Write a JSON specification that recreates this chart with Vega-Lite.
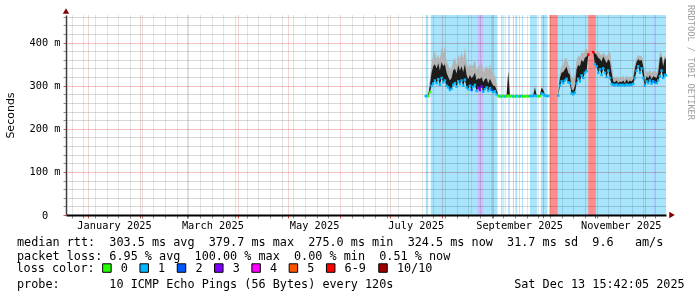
{
"$schema": "https://vega.github.io/schema/vega-lite/v6.json",
"width": 600, "height": 200,
"autosize": {"type": "none"},
"padding": {"left": 66, "top": 15, "right": 31, "bottom": 82},
"background": "#ffffff",
"config": {
"view": {"stroke": null},
"axisX": {"labelFont": "DejaVu Sans Mono", "labelFontSize": 10.3, "labelColor": "#000000", "labelBaseline": "top", "labelPadding": 2, "labelFlush": false, "labelOverlap": false, "labelBound": false, "tickSize": 3, "gridDash": [1, 1], "gridOpacity": 0.7, "domainColor": "#000000", "domainWidth": 2},
"axisY": {"labelFont": "DejaVu Sans Mono", "labelFontSize": 10.3, "labelColor": "#000000", "labelPadding": 3, "labelOverlap": false, "labelFlush": false, "tickSize": 3, "gridDash": [1, 1], "gridOpacity": 0.7, "domainColor": "#404040", "domainWidth": 1.5}
},
"title": {"text": "RRDTOOL / TOBI OETIKER", "orient": "right", "anchor": "start", "frame": "group", "font": "DejaVu Sans Mono", "fontSize": 8.7, "fontWeight": "normal", "color": "#a0a0a0", "offset": 2, "dx": -10},
"resolve": {"scale": {"color": "independent"}},
"datasets": {
"bands": [
{"t":"2025-07-22T12:00:00Z","t2":"2025-07-24T00:00:00Z","c":"1"},
{"t":"2025-07-25T12:00:00Z","t2":"2025-08-18T16:00:00Z","c":"1"},
{"t":"2025-08-18T16:00:00Z","t2":"2025-08-19T08:00:00Z","c":"2"},
{"t":"2025-08-19T08:00:00Z","t2":"2025-08-22T16:00:00Z","c":"1"},
{"t":"2025-08-22T16:00:00Z","t2":"2025-08-26T00:00:00Z","c":"3"},
{"t":"2025-08-26T00:00:00Z","t2":"2025-08-30T16:00:00Z","c":"1"},
{"t":"2025-08-30T16:00:00Z","t2":"2025-08-31T08:00:00Z","c":"2"},
{"t":"2025-08-31T08:00:00Z","t2":"2025-09-03T12:00:00Z","c":"1"},
{"t":"2025-09-05T17:00:00Z","t2":"2025-09-06T14:00:00Z","c":"1"},
{"t":"2025-09-07T22:00:00Z","t2":"2025-09-08T10:00:00Z","c":"1"},
{"t":"2025-09-10T00:00:00Z","t2":"2025-09-11T00:00:00Z","c":"1"},
{"t":"2025-09-12T19:00:00Z","t2":"2025-09-13T10:00:00Z","c":"1"},
{"t":"2025-09-14T17:00:00Z","t2":"2025-09-15T10:00:00Z","c":"1"},
{"t":"2025-09-16T12:00:00Z","t2":"2025-09-17T00:00:00Z","c":"1"},
{"t":"2025-09-18T05:00:00Z","t2":"2025-09-18T19:00:00Z","c":"1"},
{"t":"2025-09-23T00:00:00Z","t2":"2025-09-27T10:00:00Z","c":"1"},
{"t":"2025-09-29T12:00:00Z","t2":"2025-10-03T12:00:00Z","c":"1"},
{"t":"2025-10-04T18:00:00Z","t2":"2025-10-09T17:00:00Z","c":"6-9"},
{"t":"2025-10-09T17:00:00Z","t2":"2025-10-28T00:00:00Z","c":"1"},
{"t":"2025-10-28T00:00:00Z","t2":"2025-11-01T05:00:00Z","c":"6-9"},
{"t":"2025-11-01T05:00:00Z","t2":"2025-12-06T14:00:00Z","c":"1"},
{"t":"2025-12-06T14:00:00Z","t2":"2025-12-07T05:00:00Z","c":"2"},
{"t":"2025-12-07T05:00:00Z","t2":"2025-12-13T15:42:00Z","c":"1"}
],
"main": [
{"t":"2025-07-22T12:00:00Z","m":276,"k":278,"h":280,"c":"1"},
{"t":"2025-07-23","m":276,"k":278,"h":281,"c":"1"},
{"t":"2025-07-24","m":276,"k":279,"h":283,"c":"0"},
{"t":"2025-07-25","m":285,"k":300,"h":315,"c":"0"},
{"t":"2025-07-26","m":300,"k":330,"h":350,"c":"1"},
{"t":"2025-07-27","m":305,"k":345,"h":372,"c":"1"},
{"t":"2025-07-28","m":312,"k":350,"h":380,"c":"1"},
{"t":"2025-07-29","m":306,"k":340,"h":362,"c":"1"},
{"t":"2025-07-30","m":315,"k":352,"h":372,"c":"1"},
{"t":"2025-07-31","m":302,"k":335,"h":360,"c":"1"},
{"t":"2025-08-01","m":318,"k":355,"h":390,"c":"1"},
{"t":"2025-08-02","m":308,"k":345,"h":375,"c":"1"},
{"t":"2025-08-03","m":312,"k":350,"h":392,"c":"1"},
{"t":"2025-08-04","m":300,"k":330,"h":355,"c":"1"},
{"t":"2025-08-05","m":296,"k":320,"h":348,"c":"1"},
{"t":"2025-08-06","m":290,"k":312,"h":335,"c":"1"},
{"t":"2025-08-07","m":293,"k":318,"h":340,"c":"1"},
{"t":"2025-08-08","m":302,"k":335,"h":358,"c":"1"},
{"t":"2025-08-09","m":306,"k":340,"h":365,"c":"1"},
{"t":"2025-08-10","m":298,"k":328,"h":350,"c":"1"},
{"t":"2025-08-11","m":310,"k":348,"h":372,"c":"1"},
{"t":"2025-08-12","m":304,"k":335,"h":362,"c":"1"},
{"t":"2025-08-13","m":312,"k":345,"h":378,"c":"1"},
{"t":"2025-08-14","m":300,"k":332,"h":360,"c":"1"},
{"t":"2025-08-15","m":314,"k":350,"h":388,"c":"1"},
{"t":"2025-08-16","m":296,"k":325,"h":355,"c":"1"},
{"t":"2025-08-17","m":292,"k":315,"h":340,"c":"1"},
{"t":"2025-08-18","m":300,"k":325,"h":350,"c":"1"},
{"t":"2025-08-19","m":290,"k":318,"h":345,"c":"2"},
{"t":"2025-08-20","m":297,"k":322,"h":348,"c":"1"},
{"t":"2025-08-21","m":302,"k":330,"h":360,"c":"1"},
{"t":"2025-08-22","m":288,"k":312,"h":335,"c":"1"},
{"t":"2025-08-23","m":295,"k":318,"h":345,"c":"3"},
{"t":"2025-08-24","m":290,"k":315,"h":348,"c":"3"},
{"t":"2025-08-25","m":298,"k":320,"h":352,"c":"3"},
{"t":"2025-08-26","m":286,"k":308,"h":330,"c":"1"},
{"t":"2025-08-27","m":292,"k":315,"h":340,"c":"1"},
{"t":"2025-08-28","m":296,"k":318,"h":345,"c":"1"},
{"t":"2025-08-29","m":288,"k":305,"h":338,"c":"1"},
{"t":"2025-08-30","m":294,"k":316,"h":350,"c":"1"},
{"t":"2025-08-31","m":290,"k":308,"h":335,"c":"2"},
{"t":"2025-09-01","m":285,"k":300,"h":328,"c":"1"},
{"t":"2025-09-02","m":287,"k":300,"h":322,"c":"1"},
{"t":"2025-09-03","m":280,"k":290,"h":305,"c":"1"},
{"t":"2025-09-04","m":276,"k":277,"h":279,"c":"0"},
{"t":"2025-09-05","m":275,"k":276,"h":278,"c":"0"},
{"t":"2025-09-06","m":275,"k":276,"h":278,"c":"1"},
{"t":"2025-09-07","m":276,"k":277,"h":279,"c":"0"},
{"t":"2025-09-08","m":275,"k":276,"h":278,"c":"1"},
{"t":"2025-09-09","m":275,"k":276,"h":278,"c":"0"},
{"t":"2025-09-10","m":277,"k":333,"h":335,"c":"0"},
{"t":"2025-09-11","m":275,"k":276,"h":278,"c":"0"},
{"t":"2025-09-12","m":276,"k":277,"h":279,"c":"0"},
{"t":"2025-09-13","m":275,"k":276,"h":278,"c":"1"},
{"t":"2025-09-14","m":275,"k":276,"h":278,"c":"0"},
{"t":"2025-09-15","m":276,"k":277,"h":279,"c":"1"},
{"t":"2025-09-16","m":275,"k":276,"h":278,"c":"0"},
{"t":"2025-09-17","m":275,"k":276,"h":278,"c":"1"},
{"t":"2025-09-18","m":276,"k":277,"h":279,"c":"1"},
{"t":"2025-09-19","m":275,"k":276,"h":278,"c":"0"},
{"t":"2025-09-20","m":275,"k":276,"h":278,"c":"0"},
{"t":"2025-09-21","m":276,"k":277,"h":279,"c":"0"},
{"t":"2025-09-22","m":275,"k":276,"h":278,"c":"0"},
{"t":"2025-09-23","m":276,"k":277,"h":279,"c":"1"},
{"t":"2025-09-24","m":276,"k":278,"h":280,"c":"1"},
{"t":"2025-09-25","m":276,"k":278,"h":281,"c":"1"},
{"t":"2025-09-26","m":277,"k":296,"h":298,"c":"1"},
{"t":"2025-09-27","m":276,"k":278,"h":280,"c":"1"},
{"t":"2025-09-28","m":275,"k":276,"h":278,"c":"0"},
{"t":"2025-09-29","m":276,"k":277,"h":279,"c":"0"},
{"t":"2025-09-30","m":282,"k":295,"h":298,"c":"1"},
{"t":"2025-10-01","m":280,"k":290,"h":293,"c":"1"},
{"t":"2025-10-02","m":277,"k":279,"h":281,"c":"1"},
{"t":"2025-10-03","m":276,"k":278,"h":280,"c":"1"},
{"t":"2025-10-04","m":276,"k":278,"h":280,"c":"1"},
{"t":"2025-10-05","m":null,"k":null,"h":null,"c":"6-9"},
{"t":"2025-10-06","m":null,"k":null,"h":null,"c":"6-9"},
{"t":"2025-10-07","m":null,"k":null,"h":null,"c":"6-9"},
{"t":"2025-10-08","m":null,"k":null,"h":null,"c":"6-9"},
{"t":"2025-10-09","m":null,"k":null,"h":null,"c":"6-9"},
{"t":"2025-10-10","m":277,"k":280,"h":284,"c":"1"},
{"t":"2025-10-11","m":300,"k":318,"h":330,"c":"1"},
{"t":"2025-10-12","m":310,"k":330,"h":345,"c":"1"},
{"t":"2025-10-13","m":306,"k":332,"h":348,"c":"1"},
{"t":"2025-10-14","m":312,"k":338,"h":362,"c":"1"},
{"t":"2025-10-15","m":316,"k":344,"h":365,"c":"1"},
{"t":"2025-10-16","m":308,"k":330,"h":350,"c":"1"},
{"t":"2025-10-17","m":305,"k":325,"h":340,"c":"1"},
{"t":"2025-10-18","m":282,"k":292,"h":320,"c":"1"},
{"t":"2025-10-19","m":280,"k":288,"h":318,"c":"1"},
{"t":"2025-10-20","m":284,"k":300,"h":325,"c":"1"},
{"t":"2025-10-21","m":305,"k":338,"h":358,"c":"1"},
{"t":"2025-10-22","m":316,"k":348,"h":370,"c":"1"},
{"t":"2025-10-23","m":310,"k":345,"h":366,"c":"1"},
{"t":"2025-10-24","m":324,"k":360,"h":378,"c":"1"},
{"t":"2025-10-25","m":318,"k":355,"h":374,"c":"1"},
{"t":"2025-10-26","m":330,"k":365,"h":382,"c":"1"},
{"t":"2025-10-27","m":334,"k":368,"h":386,"c":"1"},
{"t":"2025-10-28","m":372,"k":376,"h":380,"c":"6-9"},
{"t":"2025-10-29","m":null,"k":null,"h":null,"c":"6-9"},
{"t":"2025-10-30","m":null,"k":null,"h":null,"c":"6-9"},
{"t":"2025-10-31","m":378,"k":381,"h":383,"c":"6-9"},
{"t":"2025-11-01","m":350,"k":375,"h":384,"c":"1"},
{"t":"2025-11-02","m":345,"k":372,"h":380,"c":"1"},
{"t":"2025-11-03","m":330,"k":365,"h":378,"c":"1"},
{"t":"2025-11-04","m":338,"k":362,"h":375,"c":"1"},
{"t":"2025-11-05","m":325,"k":356,"h":370,"c":"1"},
{"t":"2025-11-06","m":340,"k":368,"h":378,"c":"1"},
{"t":"2025-11-07","m":330,"k":360,"h":372,"c":"1"},
{"t":"2025-11-08","m":320,"k":352,"h":368,"c":"1"},
{"t":"2025-11-09","m":335,"k":362,"h":375,"c":"1"},
{"t":"2025-11-10","m":318,"k":356,"h":380,"c":"1"},
{"t":"2025-11-11","m":304,"k":330,"h":352,"c":"1"},
{"t":"2025-11-12","m":302,"k":310,"h":320,"c":"1"},
{"t":"2025-11-13","m":301,"k":308,"h":318,"c":"1"},
{"t":"2025-11-14","m":303,"k":312,"h":322,"c":"1"},
{"t":"2025-11-15","m":300,"k":306,"h":316,"c":"1"},
{"t":"2025-11-16","m":302,"k":310,"h":320,"c":"1"},
{"t":"2025-11-17","m":301,"k":308,"h":318,"c":"1"},
{"t":"2025-11-18","m":302,"k":312,"h":324,"c":"1"},
{"t":"2025-11-19","m":300,"k":306,"h":315,"c":"1"},
{"t":"2025-11-20","m":303,"k":315,"h":325,"c":"1"},
{"t":"2025-11-21","m":301,"k":308,"h":318,"c":"1"},
{"t":"2025-11-22","m":302,"k":312,"h":322,"c":"1"},
{"t":"2025-11-23","m":302,"k":310,"h":320,"c":"1"},
{"t":"2025-11-24","m":304,"k":315,"h":325,"c":"1"},
{"t":"2025-11-25","m":318,"k":340,"h":352,"c":"1"},
{"t":"2025-11-26","m":335,"k":355,"h":365,"c":"1"},
{"t":"2025-11-27","m":345,"k":362,"h":372,"c":"1"},
{"t":"2025-11-28","m":330,"k":358,"h":368,"c":"1"},
{"t":"2025-11-29","m":340,"k":360,"h":370,"c":"1"},
{"t":"2025-11-30","m":318,"k":345,"h":358,"c":"1"},
{"t":"2025-12-01","m":300,"k":308,"h":320,"c":"1"},
{"t":"2025-12-02","m":310,"k":322,"h":335,"c":"1"},
{"t":"2025-12-03","m":306,"k":318,"h":330,"c":"1"},
{"t":"2025-12-04","m":312,"k":325,"h":338,"c":"1"},
{"t":"2025-12-05","m":305,"k":315,"h":328,"c":"1"},
{"t":"2025-12-06","m":310,"k":322,"h":335,"c":"1"},
{"t":"2025-12-07","m":308,"k":320,"h":332,"c":"2"},
{"t":"2025-12-08","m":306,"k":318,"h":330,"c":"1"},
{"t":"2025-12-09","m":312,"k":330,"h":345,"c":"1"},
{"t":"2025-12-10","m":322,"k":365,"h":378,"c":"1"},
{"t":"2025-12-11","m":335,"k":368,"h":376,"c":"1"},
{"t":"2025-12-12","m":318,"k":345,"h":358,"c":"1"},
{"t":"2025-12-13","m":325,"k":365,"h":370,"c":"1"},
{"t":"2025-12-13T15:00:00Z","m":324,"k":360,"h":368,"c":"1"}
]
},
"encoding": {
"x": {"field": "t", "type": "temporal",
"scale": {"type": "utc", "domain": [{"year":2024,"month":12,"date":18,"hours":15,"minutes":42,"utc":true},{"year":2025,"month":12,"date":13,"hours":15,"minutes":42,"utc":true}]},
"axis": {
"values": [
{"year":2024,"month":12,"date":22,"utc":true},{"year":2024,"month":12,"date":29,"utc":true},
{"year":2025,"month":1,"date":1,"utc":true},{"year":2025,"month":1,"date":5,"utc":true},{"year":2025,"month":1,"date":12,"utc":true},{"year":2025,"month":1,"date":16,"hours":12,"utc":true},{"year":2025,"month":1,"date":19,"utc":true},{"year":2025,"month":1,"date":26,"utc":true},
{"year":2025,"month":2,"date":1,"utc":true},{"year":2025,"month":2,"date":2,"utc":true},{"year":2025,"month":2,"date":9,"utc":true},{"year":2025,"month":2,"date":16,"utc":true},{"year":2025,"month":2,"date":23,"utc":true},
{"year":2025,"month":3,"date":1,"utc":true},{"year":2025,"month":3,"date":2,"utc":true},{"year":2025,"month":3,"date":9,"utc":true},{"year":2025,"month":3,"date":16,"utc":true},{"year":2025,"month":3,"date":16,"hours":12,"utc":true},{"year":2025,"month":3,"date":23,"utc":true},{"year":2025,"month":3,"date":30,"utc":true},
{"year":2025,"month":4,"date":1,"utc":true},{"year":2025,"month":4,"date":6,"utc":true},{"year":2025,"month":4,"date":13,"utc":true},{"year":2025,"month":4,"date":20,"utc":true},{"year":2025,"month":4,"date":27,"utc":true},
{"year":2025,"month":5,"date":1,"utc":true},{"year":2025,"month":5,"date":4,"utc":true},{"year":2025,"month":5,"date":11,"utc":true},{"year":2025,"month":5,"date":16,"hours":12,"utc":true},{"year":2025,"month":5,"date":18,"utc":true},{"year":2025,"month":5,"date":25,"utc":true},
{"year":2025,"month":6,"date":1,"utc":true},{"year":2025,"month":6,"date":8,"utc":true},{"year":2025,"month":6,"date":15,"utc":true},{"year":2025,"month":6,"date":22,"utc":true},{"year":2025,"month":6,"date":29,"utc":true},
{"year":2025,"month":7,"date":1,"utc":true},{"year":2025,"month":7,"date":6,"utc":true},{"year":2025,"month":7,"date":13,"utc":true},{"year":2025,"month":7,"date":16,"hours":12,"utc":true},{"year":2025,"month":7,"date":20,"utc":true},{"year":2025,"month":7,"date":27,"utc":true},
{"year":2025,"month":8,"date":1,"utc":true},{"year":2025,"month":8,"date":3,"utc":true},{"year":2025,"month":8,"date":10,"utc":true},{"year":2025,"month":8,"date":17,"utc":true},{"year":2025,"month":8,"date":24,"utc":true},{"year":2025,"month":8,"date":31,"utc":true},
{"year":2025,"month":9,"date":1,"utc":true},{"year":2025,"month":9,"date":7,"utc":true},{"year":2025,"month":9,"date":14,"utc":true},{"year":2025,"month":9,"date":16,"hours":12,"utc":true},{"year":2025,"month":9,"date":21,"utc":true},{"year":2025,"month":9,"date":28,"utc":true},
{"year":2025,"month":10,"date":1,"utc":true},{"year":2025,"month":10,"date":5,"utc":true},{"year":2025,"month":10,"date":12,"utc":true},{"year":2025,"month":10,"date":19,"utc":true},{"year":2025,"month":10,"date":26,"utc":true},
{"year":2025,"month":11,"date":1,"utc":true},{"year":2025,"month":11,"date":2,"utc":true},{"year":2025,"month":11,"date":9,"utc":true},{"year":2025,"month":11,"date":16,"utc":true},{"year":2025,"month":11,"date":16,"hours":12,"utc":true},{"year":2025,"month":11,"date":23,"utc":true},{"year":2025,"month":11,"date":30,"utc":true},
{"year":2025,"month":12,"date":1,"utc":true},{"year":2025,"month":12,"date":7,"utc":true}
],
"labelExpr": "utchours(datum.value) === 12 ? utcFormat(datum.value, '%B %Y') : ''",
"tickColor": {"condition": {"test": "utcdate(datum.value) === 1 && utchours(datum.value) === 0", "value": "#de4f4f"}, "value": "#8f8f8f"},
"tickOpacity": {"condition": {"test": "utchours(datum.value) === 12", "value": 0}, "value": 1},
"grid": true,
"gridDash": [1, 1],
"gridColor": {"condition": {"test": "utcdate(datum.value) === 1 && utchours(datum.value) === 0", "value": "#de4f4f"}, "value": "#8f8f8f"},
"gridOpacity": {"condition": {"test": "utchours(datum.value) === 12", "value": 0}, "value": 0.7},
"title": [
"median\u00a0rtt:\u00a0\u00a0303.5\u00a0ms\u00a0avg\u00a0\u00a0379.7\u00a0ms\u00a0max\u00a0\u00a0275.0\u00a0ms\u00a0min\u00a0\u00a0324.5\u00a0ms\u00a0now\u00a0\u00a031.7\u00a0ms\u00a0sd\u00a0\u00a09.6\u00a0\u00a0\u00a0am/s",
"packet\u00a0loss:\u00a06.95\u00a0%\u00a0avg\u00a0\u00a0100.00\u00a0%\u00a0max\u00a0\u00a00.00\u00a0%\u00a0min\u00a0\u00a00.51\u00a0%\u00a0now",
"\u200b",
"probe:\u00a0\u00a0\u00a0\u00a0\u00a0\u00a0\u00a010\u00a0ICMP\u00a0Echo\u00a0Pings\u00a0(56\u00a0Bytes)\u00a0every\u00a0120s\u00a0\u00a0\u00a0\u00a0\u00a0\u00a0\u00a0\u00a0\u00a0\u00a0\u00a0\u00a0\u00a0\u00a0\u00a0\u00a0\u00a0Sat\u00a0Dec\u00a013\u00a015:42:05\u00a02025"
],
"titleX": -49.5, "titleY": 30, "titleAlign": "left", "titleAnchor": "start", "titleBaseline": "alphabetic",
"titleFont": "DejaVu Sans Mono", "titleFontSize": 11.8, "titleFontWeight": "normal", "titleColor": "#000000", "titleLineHeight": 14, "titleLimit": 0
}
}
},
"layer": [
{
"data": {"name": "bands"},
"mark": {"type": "rect", "blend": "multiply"},
"encoding": {
"x2": {"field": "t2"},
"color": {"field": "c", "type": "nominal",
"scale": {"domain": ["0","1","2","3","4","5","6-9","10/10"], "range": ["#ffffff","#a8e4fb","#a8c6ff","#cdbcfb","#ffa8ff","#ffc8a8","#ff8c8c","#d8a0a0"]},
"legend": null}
}
},
{
"encoding": {
"y": {"field": "m", "type": "quantitative",
"scale": {"domain": [0, 464], "nice": false, "zero": true},
"axis": {
"values": [0,20,40,60,80,100,120,140,160,180,200,220,240,260,280,300,320,340,360,380,400,420,440,460],
"labelExpr": "datum.value % 100 === 0 ? (datum.value === 0 ? '0\u00a0\u00a0\u200b' : datum.value + '\u00a0m') : ''",
"tickColor": {"condition": {"test": "datum.value % 100 === 0", "value": "#de4f4f"}, "value": "#8f8f8f"},
"grid": true,
"gridDash": [1, 1],
"gridColor": {"condition": {"test": "datum.value % 100 === 0", "value": "#de4f4f"}, "value": "#8f8f8f"},
"title": "Seconds", "titleFont": "DejaVu Sans", "titleFontSize": 11, "titleFontWeight": "normal", "titleColor": "#000000",
"titleX": -55.5, "titleY": 100, "titleAngle": -90, "titleAlign": "center", "titleBaseline": "middle"
}}
},
"layer": [
{
"data": {"name": "main"},
"mark": {"type": "area", "color": "#b4b4b4"},
"encoding": {"y2": {"field": "h"}}
},
{
"data": {"name": "main"},
"mark": {"type": "area", "color": "#1c1c1c"},
"encoding": {"y2": {"field": "k"}}
},
{
"data": {"name": "main"},
"mark": {"type": "point", "shape": "square", "filled": true, "size": 6, "opacity": 1},
"encoding": {
"color": {"field": "c", "type": "nominal",
"scale": {"domain": ["0","1","2","3","4","5","6-9","10/10"], "range": ["#26ff00","#00b8ff","#0059ff","#7e00ff","#ff00ff","#ff5500","#ff0000","#a00000"]},
"legend": {"orient": "none", "legendX": -49.5, "legendY": 247, "direction": "horizontal", "columns": 8,
"title": "loss\u00a0color:", "titleOrient": "left", "titleFont": "DejaVu Sans Mono", "titleFontSize": 11.8, "titleFontWeight": "normal", "titleColor": "#000000", "titlePadding": 5.5,
"labelFont": "DejaVu Sans Mono", "labelFontSize": 11.8, "labelColor": "#000000", "labelOffset": 8,
"symbolType": "square", "symbolSize": 72, "symbolOpacity": 1, "symbolStrokeColor": "#000000", "symbolStrokeWidth": 1,
"columnPadding": 9.3, "padding": 0, "offset": 0,
"encode": {"symbols": {"update": {"stroke": {"value": "#000000"}, "strokeWidth": {"value": 1}}}}}
}
}
},
{
"data": {"values": [{"t": "2024-12-18T15:42:00Z", "m": 464}]},
"mark": {"type": "point", "shape": "triangle-up", "filled": true, "size": 40, "color": "#800000", "opacity": 1, "yOffset": -4}
},
{
"data": {"values": [{"t": "2025-12-13T15:42:00Z", "m": 0}]},
"mark": {"type": "point", "shape": "triangle-right", "filled": true, "size": 40, "color": "#800000", "opacity": 1, "xOffset": 6}
}
]
}
]
}
